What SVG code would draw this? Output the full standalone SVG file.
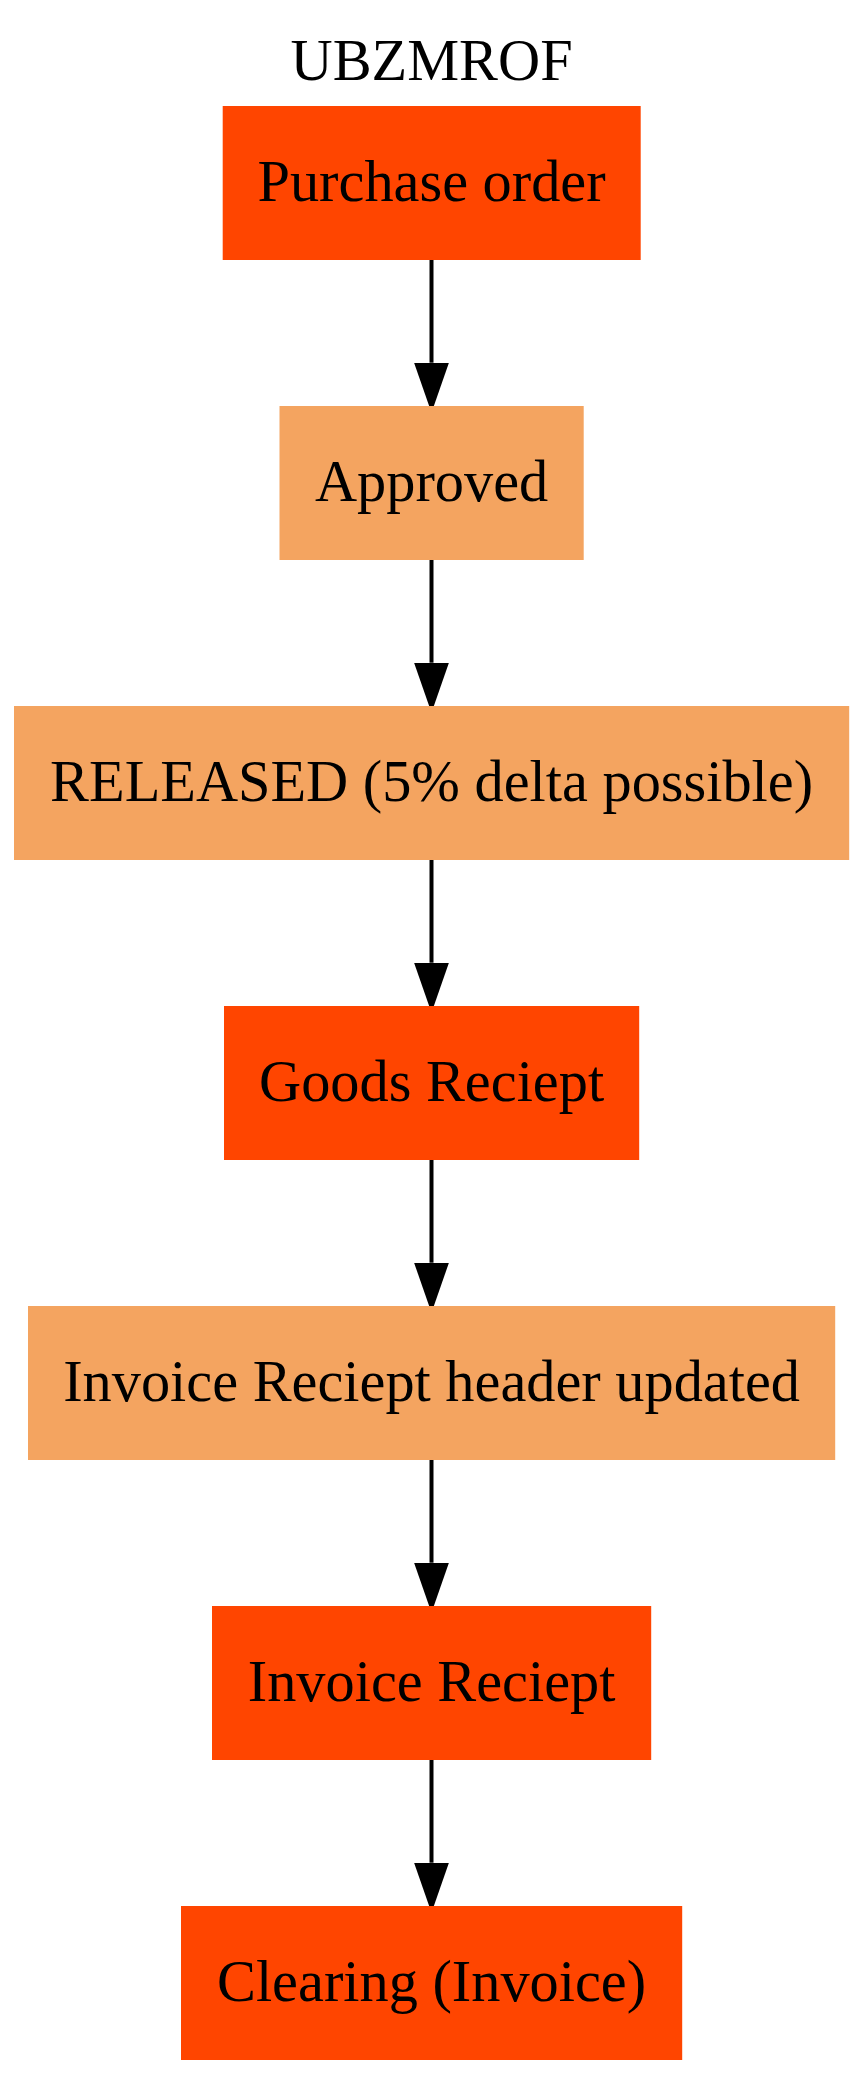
<svg xmlns="http://www.w3.org/2000/svg" width="863" height="2075" viewBox="0 0 863 2075">
<style>
text{font-family:"Liberation Serif","Times New Roman",serif;font-size:58.33px;fill:#000;text-anchor:middle}
.red{fill:#ff4500}
.sand{fill:#f4a460}
.edge{stroke:#000;stroke-width:4;fill:none}
</style>
<defs>
<marker id="ah" markerUnits="userSpaceOnUse" markerWidth="50" markerHeight="35" viewBox="0 0 49.6 34.6" refX="0" refY="17.3" orient="auto">
<path d="M0,0 L49.6,17.3 L0,34.6 Z" fill="#000"/>
</marker>
</defs>
<rect width="863" height="2075" fill="#fff"/>
<text id="title" x="431.6" y="80">UBZMROF</text>
<g id="connectors">
<line class="edge" x1="431.5" y1="259" x2="431.5" y2="362.7" marker-end="url(#ah)"/>
<line class="edge" x1="431.5" y1="559" x2="431.5" y2="662.7" marker-end="url(#ah)"/>
<line class="edge" x1="431.5" y1="859" x2="431.5" y2="962.7" marker-end="url(#ah)"/>
<line class="edge" x1="431.5" y1="1159" x2="431.5" y2="1262.7" marker-end="url(#ah)"/>
<line class="edge" x1="431.5" y1="1459" x2="431.5" y2="1562.7" marker-end="url(#ah)"/>
<line class="edge" x1="431.5" y1="1759" x2="431.5" y2="1862.7" marker-end="url(#ah)"/>
</g>
<g id="node-purchase-order">
<rect class="red" x="222.7" y="106" width="418" height="154"/>
<text x="431.6" y="201">Purchase order</text>
</g>
<g id="node-approved">
<rect class="sand" x="279.5" y="406" width="304.2" height="154"/>
<text x="431.6" y="501">Approved</text>
</g>
<g id="node-released">
<rect class="sand" x="14" y="706" width="835.2" height="154"/>
<text x="431.6" y="801">RELEASED (5% delta possible)</text>
</g>
<g id="node-goods-reciept">
<rect class="red" x="224" y="1006" width="415.2" height="154"/>
<text x="431.6" y="1101">Goods Reciept</text>
</g>
<g id="node-invoice-header">
<rect class="sand" x="28" y="1306" width="807.2" height="154"/>
<text x="431.6" y="1401">Invoice Reciept header updated</text>
</g>
<g id="node-invoice-reciept">
<rect class="red" x="212" y="1606" width="439.2" height="154"/>
<text x="431.6" y="1701">Invoice Reciept</text>
</g>
<g id="node-clearing">
<rect class="red" x="181" y="1906" width="501.2" height="154"/>
<text x="431.6" y="2001">Clearing (Invoice)</text>
</g>
</svg>
